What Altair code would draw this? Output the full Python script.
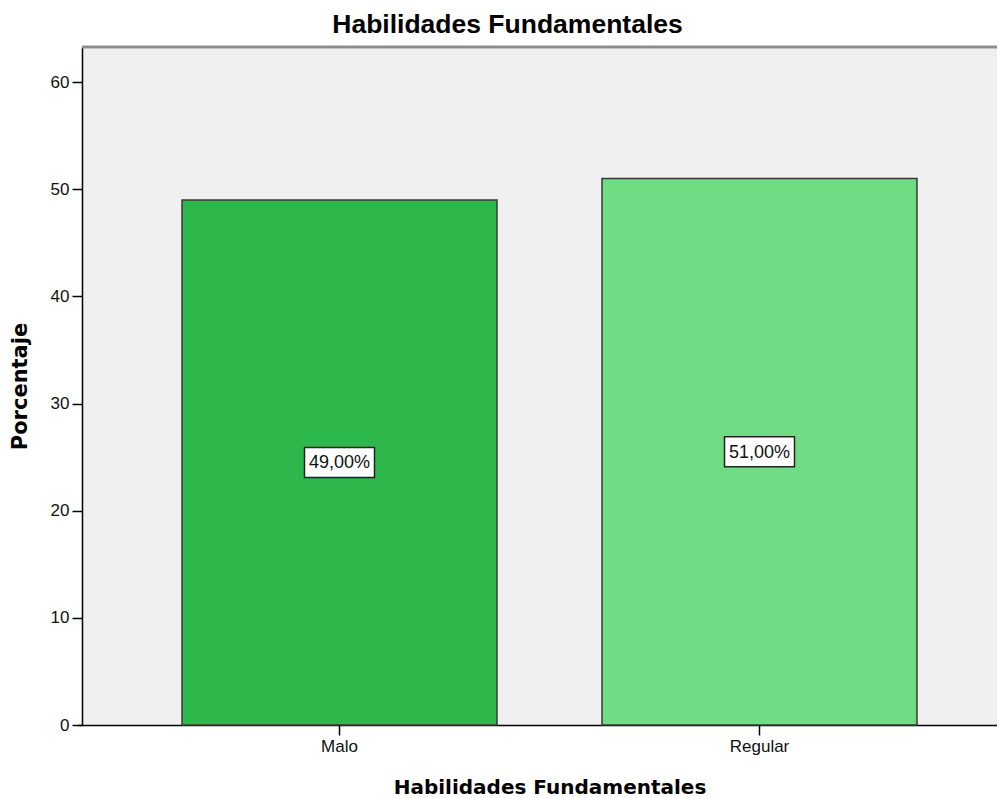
import altair as alt
import pandas as pd

categories = ["Malo", "Regular"]
values = [49.0, 51.0]
labels = ["49,00%", "51,00%"]
colors = ["#2EB74A", "#70DC84"]

df = pd.DataFrame({"cat": categories, "val": values, "lab": labels})
df["mid"] = df["val"] / 2

W, H = 915, 678

x_enc = alt.X("cat:N", sort=categories,
              scale=alt.Scale(range=[-5, 940], paddingInner=0.25, paddingOuter=0.25),
              axis=alt.Axis(title="Habilidades Fundamentales", labelAngle=0,
                            labelFont="Liberation Sans", labelFontSize=17, labelColor="#111",
                            tickSize=10, tickColor="#000", tickWidth=1.5,
                            labelPadding=3,
                            domainColor="#000", domainWidth=1.5,
                            titleFont="DejaVu Sans", titleFontSize=20, titleFontWeight="bold",
                            titleColor="#000", titleY=68, titleBaseline="alphabetic"))

y_scale = alt.Scale(domain=[0, 63.27], nice=False)

bars = alt.Chart(df).mark_bar(stroke="#383838", strokeWidth=1.5).encode(
    x=x_enc,
    y=alt.Y("val:Q", scale=y_scale,
            axis=alt.Axis(title="Porcentaje", values=[0, 10, 20, 30, 40, 50, 60],
                          grid=False, labelFont="Liberation Sans", labelFontSize=17,
                          labelColor="#111", tickSize=10, tickColor="#000", tickWidth=1.5,
                          labelPadding=3, domainColor="#000", domainWidth=1.5,
                          titleFont="DejaVu Sans", titleFontSize=21, titleFontWeight="bold",
                          titleColor="#000", titleX=-62, titleY=339, titleAngle=-90,
                          titleAlign="center", titleBaseline="middle")),
    color=alt.Color("cat:N", scale=alt.Scale(domain=categories, range=colors), legend=None),
)

box_path = "M-1,-0.43L1,-0.43L1,0.43L-1,0.43Z"
boxes = alt.Chart(df).mark_point(shape=box_path, filled=True, fill="white",
                                  stroke="#222", strokeWidth=1.5, opacity=1,
                                  size=4900).encode(
    x=alt.X("cat:N", sort=categories),
    y=alt.Y("mid:Q"),
)

texts = alt.Chart(df).mark_text(font="Liberation Sans", fontSize=18, color="#111",
                                baseline="middle", align="center", dy=1).encode(
    x=alt.X("cat:N", sort=categories),
    y=alt.Y("mid:Q"),
    text="lab:N",
)

top_line = alt.Chart(df).mark_rule(color="#8a8a8a", strokeWidth=2.5).encode(
    x=alt.value(0), x2=alt.value(W), y=alt.value(0)
)

chart = alt.layer(bars, boxes, texts, top_line).properties(
    width=W, height=H,
    title=alt.TitleParams("Habilidades Fundamentales", font="Liberation Sans",
                          fontSize=26.5, fontWeight="bold", color="#000",
                          anchor="middle", frame="group", dx=-32, offset=7),
    autosize=alt.AutoSizeParams(type="none"),
    padding={"left": 74, "top": 39, "right": 0, "bottom": 73},
).configure(background="white").configure_view(fill="#F0F0F0", strokeWidth=0)

chart.save("out.html", embed_options={"renderer": "svg", "actions": False})
